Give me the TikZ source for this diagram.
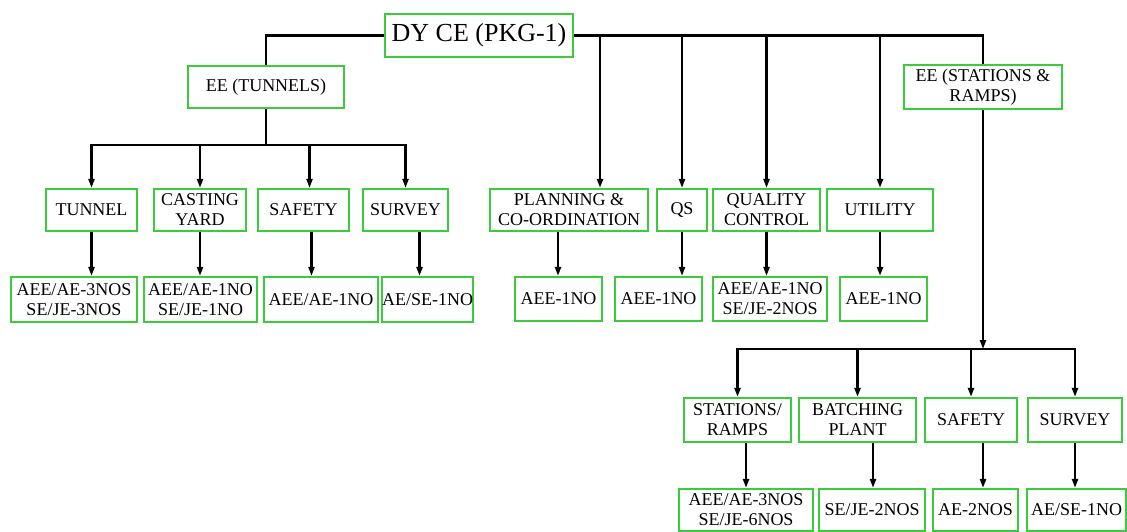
\documentclass[tikz,border=0pt]{standalone}
\usepackage{fontspec}
\setmainfont{Liberation Serif}
\usetikzlibrary{arrows.meta}
\definecolor{boxgreen}{HTML}{3CCB3C}
\tikzset{
  box/.style={draw=boxgreen, line width=2.2pt, fill=white, inner sep=0pt, align=center,
    font=\fontsize{18}{20}\selectfont, minimum height=42pt},
  link/.style={draw=black, line width=2.2pt},
  arr/.style={link, -{Triangle[length=9pt,width=6pt]}}
}
\begin{document}
\begin{tikzpicture}[x=1pt,y=-1pt]
\fill[white] (0,0) rectangle (1127,532);
\useasboundingbox (0,0) rectangle (1127,532);

% top
\node[box, minimum width=188pt, minimum height=43pt, font=\fontsize{26}{28}\selectfont] (top) at (479,35.5) {DY CE (PKG-1)};
\node[box, minimum width=156pt] (eet) at (266,87) {EE (TUNNELS)};
\node[box, minimum width=158pt, minimum height=44pt] (ees) at (983,87) {EE (STATIONS \&\\RAMPS)};

% tunnels level 2
\node[box, minimum width=91pt] (tun) at (91.5,210) {TUNNEL};
\node[box, minimum width=92pt] (cast) at (200,210) {CASTING\\YARD};
\node[box, minimum width=91pt] (safa) at (303.5,210) {SAFETY};
\node[box, minimum width=85pt] (sura) at (405.5,210) {SURVEY};
% tunnels level 3
\node[box, minimum width=126pt, minimum height=45pt] (tunx) at (74,299.5) {AEE/AE-3NOS\\SE/JE-3NOS};
\node[box, minimum width=113pt, minimum height=45pt] (castx) at (200.5,299.5) {AEE/AE-1NO\\SE/JE-1NO};
\node[box, minimum width=114pt, minimum height=45pt] (safax) at (321,299.5) {AEE/AE-1NO};
\node[box, minimum width=85pt, minimum height=45pt] (surax) at (427.5,299.5) {AE/SE-1NO};

% middle level 2
\node[box, minimum width=158pt] (plan) at (569,210) {PLANNING \&\\CO-ORDINATION};
\node[box, minimum width=50pt] (qs) at (682,210) {QS};
\node[box, minimum width=107pt] (qc) at (766.5,210) {QUALITY\\CONTROL};
\node[box, minimum width=106pt] (util) at (880,210) {UTILITY};
% middle level 3
\node[box, minimum width=87pt, minimum height=44pt] (planx) at (558.5,299) {AEE-1NO};
\node[box, minimum width=87pt, minimum height=44pt] (qsx) at (658.5,299) {AEE-1NO};
\node[box, minimum width=114pt, minimum height=44pt] (qcx) at (770,299) {AEE/AE-1NO\\SE/JE-2NOS};
\node[box, minimum width=87pt, minimum height=44pt] (utilx) at (883.5,299) {AEE-1NO};

% stations level 2
\node[box, minimum width=107pt, minimum height=44pt] (st) at (737.5,420) {STATIONS/\\RAMPS};
\node[box, minimum width=117pt, minimum height=44pt] (bp) at (857.5,420) {BATCHING\\PLANT};
\node[box, minimum width=92pt, minimum height=44pt] (safb) at (971,420) {SAFETY};
\node[box, minimum width=94pt, minimum height=44pt] (surb) at (1075,420) {SURVEY};
% stations level 3
\node[box, minimum width=134pt] (stx) at (746,510) {AEE/AE-3NOS\\SE/JE-6NOS};
\node[box, minimum width=106pt] (bpx) at (872,510) {SE/JE-2NOS};
\node[box, minimum width=85pt] (safbx) at (975.5,510) {AE-2NOS};
\node[box, minimum width=99pt] (surbx) at (1076.5,510) {AE/SE-1NO};

% top bus
\draw[link] (top.west) -| (eet.north);
\draw[link] (top.east) -| (ees.north);
\draw[arr] ([xshift=31pt]plan.north |- top.east) -- ([xshift=31pt]plan.north);
\draw[arr] (qs.north |- top.east) -- (qs.north);
\draw[arr] (qc.north |- top.east) -- (qc.north);
\draw[arr] (util.north |- top.east) -- (util.north);

% tunnels bus
\coordinate (b1) at (266,145);
\draw[link] (eet.south) -- (b1);
\draw[arr] (b1) -| (tun.north);
\draw[arr] (b1) -| (cast.north);
\draw[arr] (b1) -| ([xshift=6pt]safa.north);
\draw[arr] (b1) -| (sura.north);
\draw[arr] (tun.south) -- (tun.south |- tunx.north);
\draw[arr] (cast.south) -- (cast.south |- castx.north);
\draw[arr] ([xshift=8pt]safa.south) -- ([xshift=8pt]safa.south |- safax.north);
\draw[arr] ([xshift=14pt]sura.south) -- ([xshift=14pt]sura.south |- surax.north);

% middle level 3
\draw[arr] ([xshift=-11pt]plan.south) -- ([xshift=-11pt]plan.south |- planx.north);
\draw[arr] (qs.south) -- (qs.south |- qsx.north);
\draw[arr] (qc.south) -- (qc.south |- qcx.north);
\draw[arr] (util.south) -- (util.south |- utilx.north);

% stations bus
\coordinate (b2) at (983,349);
\draw[arr] (ees.south) -- (b2);
\draw[arr] (b2) -| (st.north);
\draw[arr] (b2) -| (bp.north);
\draw[arr] (b2) -| (safb.north);
\draw[arr] (b2) -| (surb.north);
\draw[arr] ([xshift=8.5pt]st.south) -- ([xshift=8.5pt]st.south |- stx.north);
\draw[arr] ([xshift=15.5pt]bp.south) -- ([xshift=15.5pt]bp.south |- bpx.north);
\draw[arr] ([xshift=12pt]safb.south) -- ([xshift=12pt]safb.south |- safbx.north);
\draw[arr] (surb.south) -- (surb.south |- surbx.north);
\end{tikzpicture}
\end{document}
